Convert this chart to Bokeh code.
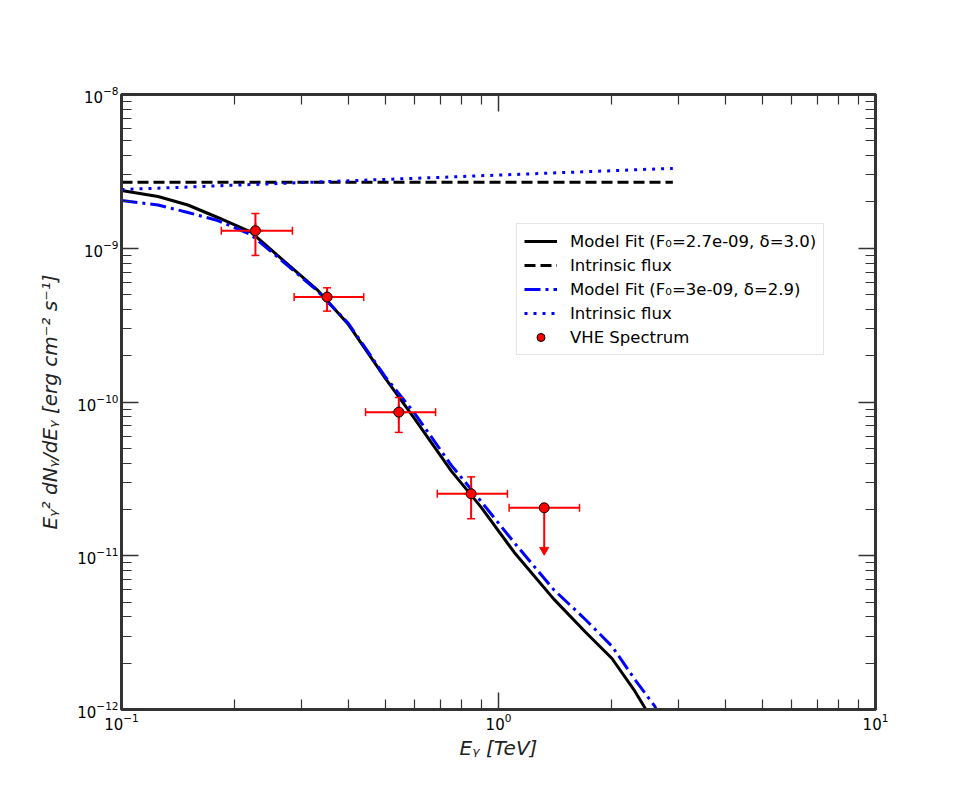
import math
from bokeh.plotting import figure
from bokeh.models import (LogAxis, FixedTicker, Legend, LegendItem, ColumnDataSource,
                          Range1d)
from bokeh.embed import file_html
from bokeh.resources import INLINE

# ---------------- data ----------------
energy = [0.1, 0.125, 0.15, 0.18, 0.22, 0.27, 0.33, 0.4, 0.5, 0.6, 0.75, 0.9,
          1.1, 1.4, 1.7, 2.0, 2.3, 2.6, 2.9]
model_fit_1 = [2.375e-9, 2.171e-9, 1.911e-9, 1.585e-9, 1.28e-9, 8.25e-10, 5.39e-10,
               3.19e-10, 1.437e-10, 7.75e-11, 3.55e-11, 2.063e-11, 1.054e-11,
               5.24e-12, 3.19e-12, 2.146e-12, 1.315e-12, 7.99e-13, 4.07e-13]
intrinsic_1 = [2.69e-9, 2.69e-9, 2.69e-9, 2.69e-9, 2.69e-9, 2.69e-9, 2.69e-9,
               2.69e-9, 2.69e-9, 2.69e-9, 2.69e-9, 2.69e-9, 2.69e-9, 2.69e-9,
               2.69e-9, 2.69e-9, 2.69e-9, 2.69e-9, 2.69e-9]
model_fit_2 = [2.044e-9, 1.911e-9, 1.708e-9, 1.515e-9, 1.229e-9, 8.08e-10, 5.31e-10,
               3.24e-10, 1.466e-10, 8.41e-11, 3.87e-11, 2.25e-11, 1.22e-11,
               6.03e-12, 3.85e-12, 2.58e-12, 1.567e-12, 1.047e-12, 5.0e-13]
intrinsic_2 = [2.41e-9, 2.46e-9, 2.50e-9, 2.55e-9, 2.594e-9, 2.645e-9, 2.697e-9,
               2.746e-9, 2.804e-9, 2.85e-9, 2.91e-9, 2.963e-9, 3.017e-9, 3.09e-9,
               3.146e-9, 3.194e-9, 3.237e-9, 3.276e-9, 3.306e-9]

# VHE spectrum points (detections)
pt_E = [0.2266, 0.351, 0.544, 0.846]
pt_F = [1.30e-9, 4.81e-10, 8.59e-11, 2.53e-11]
pt_E_lo = [0.184, 0.287, 0.444, 0.688]
pt_E_hi = [0.284, 0.439, 0.681, 1.056]
pt_F_lo = [8.98e-10, 3.90e-10, 6.34e-11, 1.74e-11]
pt_F_hi = [1.68e-9, 5.53e-10, 1.07e-10, 3.26e-11]

# upper limit point
ul_E = [1.322]
ul_F = [2.05e-11]
ul_E_lo = [1.067]
ul_E_hi = [1.64]
ul_F_end = [1.09e-11]

x_major = [0.1, 1.0, 10.0]
y_major = [1e-12, 1e-11, 1e-10, 1e-9, 1e-8]

label_1 = "Model Fit (F\u2080=2.7e-09, \u03b4=3.0)"
label_2 = "Intrinsic flux"
label_3 = "Model Fit (F\u2080=3e-09, \u03b4=2.9)"
label_4 = "Intrinsic flux"
label_5 = "VHE Spectrum"
x_label = "E\u1d67 [TeV]"
y_label = "E\u1d67\u00b2 dN\u1d67/dE\u1d67 [erg cm\u207b\u00b2 s\u207b\u00b9]"

# ---------------- figure ----------------
FRAME_COL = "#333333"
FONT = "DejaVu Sans"

p = figure(width=956, height=782, x_axis_type="log", y_axis_type="log",
           x_range=Range1d(0.1, 10), y_range=Range1d(1e-12, 1e-8),
           output_backend="svg", toolbar_location=None,
           min_border_left=121, min_border_right=81, min_border_top=94,
           min_border_bottom=73)
p.xgrid.visible = False
p.ygrid.visible = False
p.outline_line_color = FRAME_COL
p.outline_line_width = 3
p.background_fill_color = "white"
p.border_fill_color = "white"


def minor_of(majors):
    out = []
    for m in majors[:-1]:
        for k in range(2, 10):
            out.append(m * k)
    return out


x_ticker = FixedTicker(ticks=x_major, minor_ticks=minor_of(x_major))
y_ticker = FixedTicker(ticks=y_major, minor_ticks=minor_of(y_major))

bottom_ax = p.below[0]
left_ax = p.left[0]
top_ax = LogAxis(ticker=x_ticker)
right_ax = LogAxis(ticker=y_ticker)
p.add_layout(top_ax, "above")
p.add_layout(right_ax, "right")
bottom_ax.ticker = x_ticker
left_ax.ticker = y_ticker

for ax in [bottom_ax, left_ax, top_ax, right_ax]:
    ax.axis_line_color = FRAME_COL
    ax.axis_line_width = 3
    ax.major_tick_line_color = FRAME_COL
    ax.minor_tick_line_color = FRAME_COL
    ax.major_tick_line_width = 1.5
    ax.minor_tick_line_width = 1.2
    ax.major_tick_in = 17
    ax.major_tick_out = 0
    ax.minor_tick_in = 10
    ax.minor_tick_out = 0
    ax.major_label_text_font = FONT
    ax.major_label_text_font_size = "15px"
    ax.major_label_text_color = "black"

for ax in [top_ax, right_ax]:
    ax.major_label_text_font_size = "0px"
    ax.major_label_text_alpha = 0

bottom_ax.major_label_standoff = 3
left_ax.major_label_standoff = 3
bottom_ax.axis_label = x_label
left_ax.axis_label = y_label
for ax in [bottom_ax, left_ax]:
    ax.axis_label_text_font = FONT
    ax.axis_label_text_font_size = "20px"
    ax.axis_label_text_font_style = "italic"
    ax.axis_label_text_color = "#222222"
bottom_ax.axis_label_standoff = 3
left_ax.axis_label_standoff = 12

# ---------------- curves ----------------
r1 = p.line(energy, model_fit_1, line_color="black", line_width=3)
r2 = p.line(energy, intrinsic_1, line_color="black", line_width=3, line_dash="11 5")
r3 = p.line(energy, model_fit_2, line_color="blue", line_width=3, line_dash="16 5 3 5")
r4 = p.line(energy, intrinsic_2, line_color="blue", line_width=3, line_dash="3 6")

# ---------------- error bars ----------------
ERR = "red"
src = ColumnDataSource(dict(x=pt_E, y=pt_F, xlo=pt_E_lo, xhi=pt_E_hi,
                            ylo=pt_F_lo, yhi=pt_F_hi))
p.segment(x0="xlo", y0="y", x1="xhi", y1="y", source=src, line_color=ERR, line_width=2)
p.segment(x0="x", y0="ylo", x1="x", y1="yhi", source=src, line_color=ERR, line_width=2)
p.scatter(x="xlo", y="y", source=src, marker="dash", angle=math.pi / 2, size=8,
          line_color=ERR, line_width=1.5)
p.scatter(x="xhi", y="y", source=src, marker="dash", angle=math.pi / 2, size=8,
          line_color=ERR, line_width=1.5)
p.scatter(x="x", y="ylo", source=src, marker="dash", size=8, line_color=ERR, line_width=1.5)
p.scatter(x="x", y="yhi", source=src, marker="dash", size=8, line_color=ERR, line_width=1.5)

usrc = ColumnDataSource(dict(x=ul_E, y=ul_F, xlo=ul_E_lo, xhi=ul_E_hi, yend=ul_F_end))
p.segment(x0="xlo", y0="y", x1="xhi", y1="y", source=usrc, line_color=ERR, line_width=2)
p.segment(x0="x", y0="y", x1="x", y1="yend", source=usrc, line_color=ERR, line_width=2)
p.scatter(x="xlo", y="y", source=usrc, marker="dash", angle=math.pi / 2, size=8,
          line_color=ERR, line_width=1.5)
p.scatter(x="xhi", y="y", source=usrc, marker="dash", angle=math.pi / 2, size=8,
          line_color=ERR, line_width=1.5)
p.scatter(x="x", y="yend", source=usrc, marker="inverted_triangle", size=9,
          fill_color=ERR, line_color=ERR)

# small cross under each point (hidden by its error bars, gives the legend icon)
r5b = p.scatter(x="x", y="y", source=src, marker="cross", size=15,
                line_color=ERR, line_width=2)
r5 = p.scatter(x="x", y="y", source=src, marker="circle", size=10,
               fill_color="red", line_color="black", line_width=1)
p.scatter(x="x", y="y", source=usrc, marker="circle", size=10,
          fill_color="red", line_color="black", line_width=1)

legend = Legend(items=[LegendItem(label=label_1, renderers=[r1]),
                       LegendItem(label=label_2, renderers=[r2]),
                       LegendItem(label=label_3, renderers=[r3]),
                       LegendItem(label=label_4, renderers=[r4]),
                       LegendItem(label=label_5, renderers=[r5b, r5])],
                location=(395, 354))
legend.label_text_font = FONT
legend.label_text_font_size = "16.5px"
legend.label_text_color = "black"
legend.glyph_width = 33
legend.glyph_height = 20
legend.label_height = 20
legend.label_standoff = 13
legend.spacing = 4
legend.padding = 7
legend.margin = 0
legend.border_line_color = "#cccccc"
legend.border_line_width = 1
legend.background_fill_alpha = 0.8
p.add_layout(legend, "center")

open("out.html", "w").write(file_html(p, INLINE))
